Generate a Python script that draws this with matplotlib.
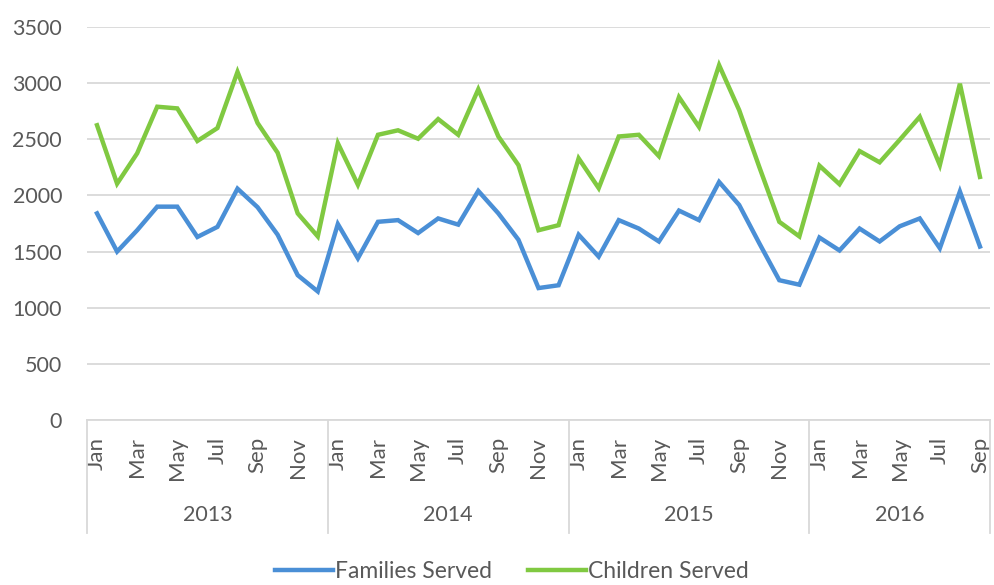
import numpy as np
import matplotlib
matplotlib.use("Agg")
import matplotlib.pyplot as plt
from matplotlib import transforms

plt.rcParams['font.family'] = ['Lato', 'DejaVu Sans']

years = ["2013", "2014", "2015", "2016"]
months_per_year = [12, 12, 12, 9]
month_names = ["Jan", "Feb", "Mar", "Apr", "May", "Jun",
               "Jul", "Aug", "Sep", "Oct", "Nov", "Dec"]

families = [1840, 1500, 1690, 1900, 1900, 1630, 1720, 2060, 1895, 1650, 1290, 1145,
            1745, 1440, 1765, 1780, 1665, 1795, 1740, 2040, 1840, 1605, 1175, 1200,
            1650, 1455, 1780, 1705, 1590, 1865, 1780, 2120, 1915, 1575, 1245, 1205,
            1625, 1510, 1705, 1590, 1725, 1795, 1530, 2035, 1545]
children = [2625, 2105, 2375, 2790, 2775, 2485, 2600, 3100, 2645, 2380, 1840, 1635,
            2465, 2095, 2540, 2580, 2505, 2680, 2540, 2945, 2525, 2270, 1690, 1735,
            2330, 2065, 2525, 2540, 2350, 2875, 2610, 3160, 2760, 2255, 1765, 1635,
            2265, 2100, 2395, 2295, 2495, 2700, 2270, 2995, 2165]

labels = [month_names[m] for n in months_per_year for m in range(n)]
x = np.arange(len(labels))

text_color = "#595959"
grid_color = "#D9D9D9"

fig = plt.figure(figsize=(9.95, 5.85), dpi=100)
ax = fig.add_axes([87 / 995, 1 - 420 / 585, 903 / 995, 393 / 585])

ax.plot(x, families, color="#4A8FD6", lw=3.2, solid_joinstyle="miter", label="Families Served")
ax.plot(x, children, color="#80C941", lw=3.2, solid_joinstyle="miter", label="Children Served")

ax.set_xlim(-0.5, len(labels) - 0.5)
ax.set_ylim(0, 3500)
ax.set_yticks(np.arange(0, 3501, 500))
ax.yaxis.grid(True, color=grid_color, lw=1.3)
ax.set_axisbelow(True)
for s in ["left", "right", "top"]:
    ax.spines[s].set_visible(False)
ax.spines["bottom"].set_color(grid_color)
ax.spines["bottom"].set_linewidth(1.3)
ax.tick_params(axis="y", length=0, pad=18, labelsize=15.5, labelcolor=text_color)

# every other month on the category axis
ax.set_xticks(x[::2])
ax.set_xticklabels(labels[::2], rotation=90, va="top")
ax.tick_params(axis="x", length=0, pad=12, labelsize=16, labelcolor=text_color)

# year level of the axis + separators
trans = transforms.blended_transform_factory(ax.transData, ax.transAxes)
start = 0
edges = [-0.5]
for yr, n in zip(years, months_per_year):
    ax.text(start + (n - 1) / 2, -0.242, yr, transform=trans, ha="center", va="center",
            fontsize=15.5, color=text_color)
    start += n
    edges.append(start - 0.5)
for e in edges:
    ax.plot([e, e], [0, -0.2875], transform=trans, color=grid_color, lw=1.3, clip_on=False)

fig.legend(loc="center", bbox_to_anchor=(512 / 995, 1 - 572 / 585), ncol=2, frameon=False,
           fontsize=16.5, handlelength=2.5, handletextpad=0.1, columnspacing=1.6,
           labelcolor=text_color)

fig.savefig("out.png", dpi=100)
